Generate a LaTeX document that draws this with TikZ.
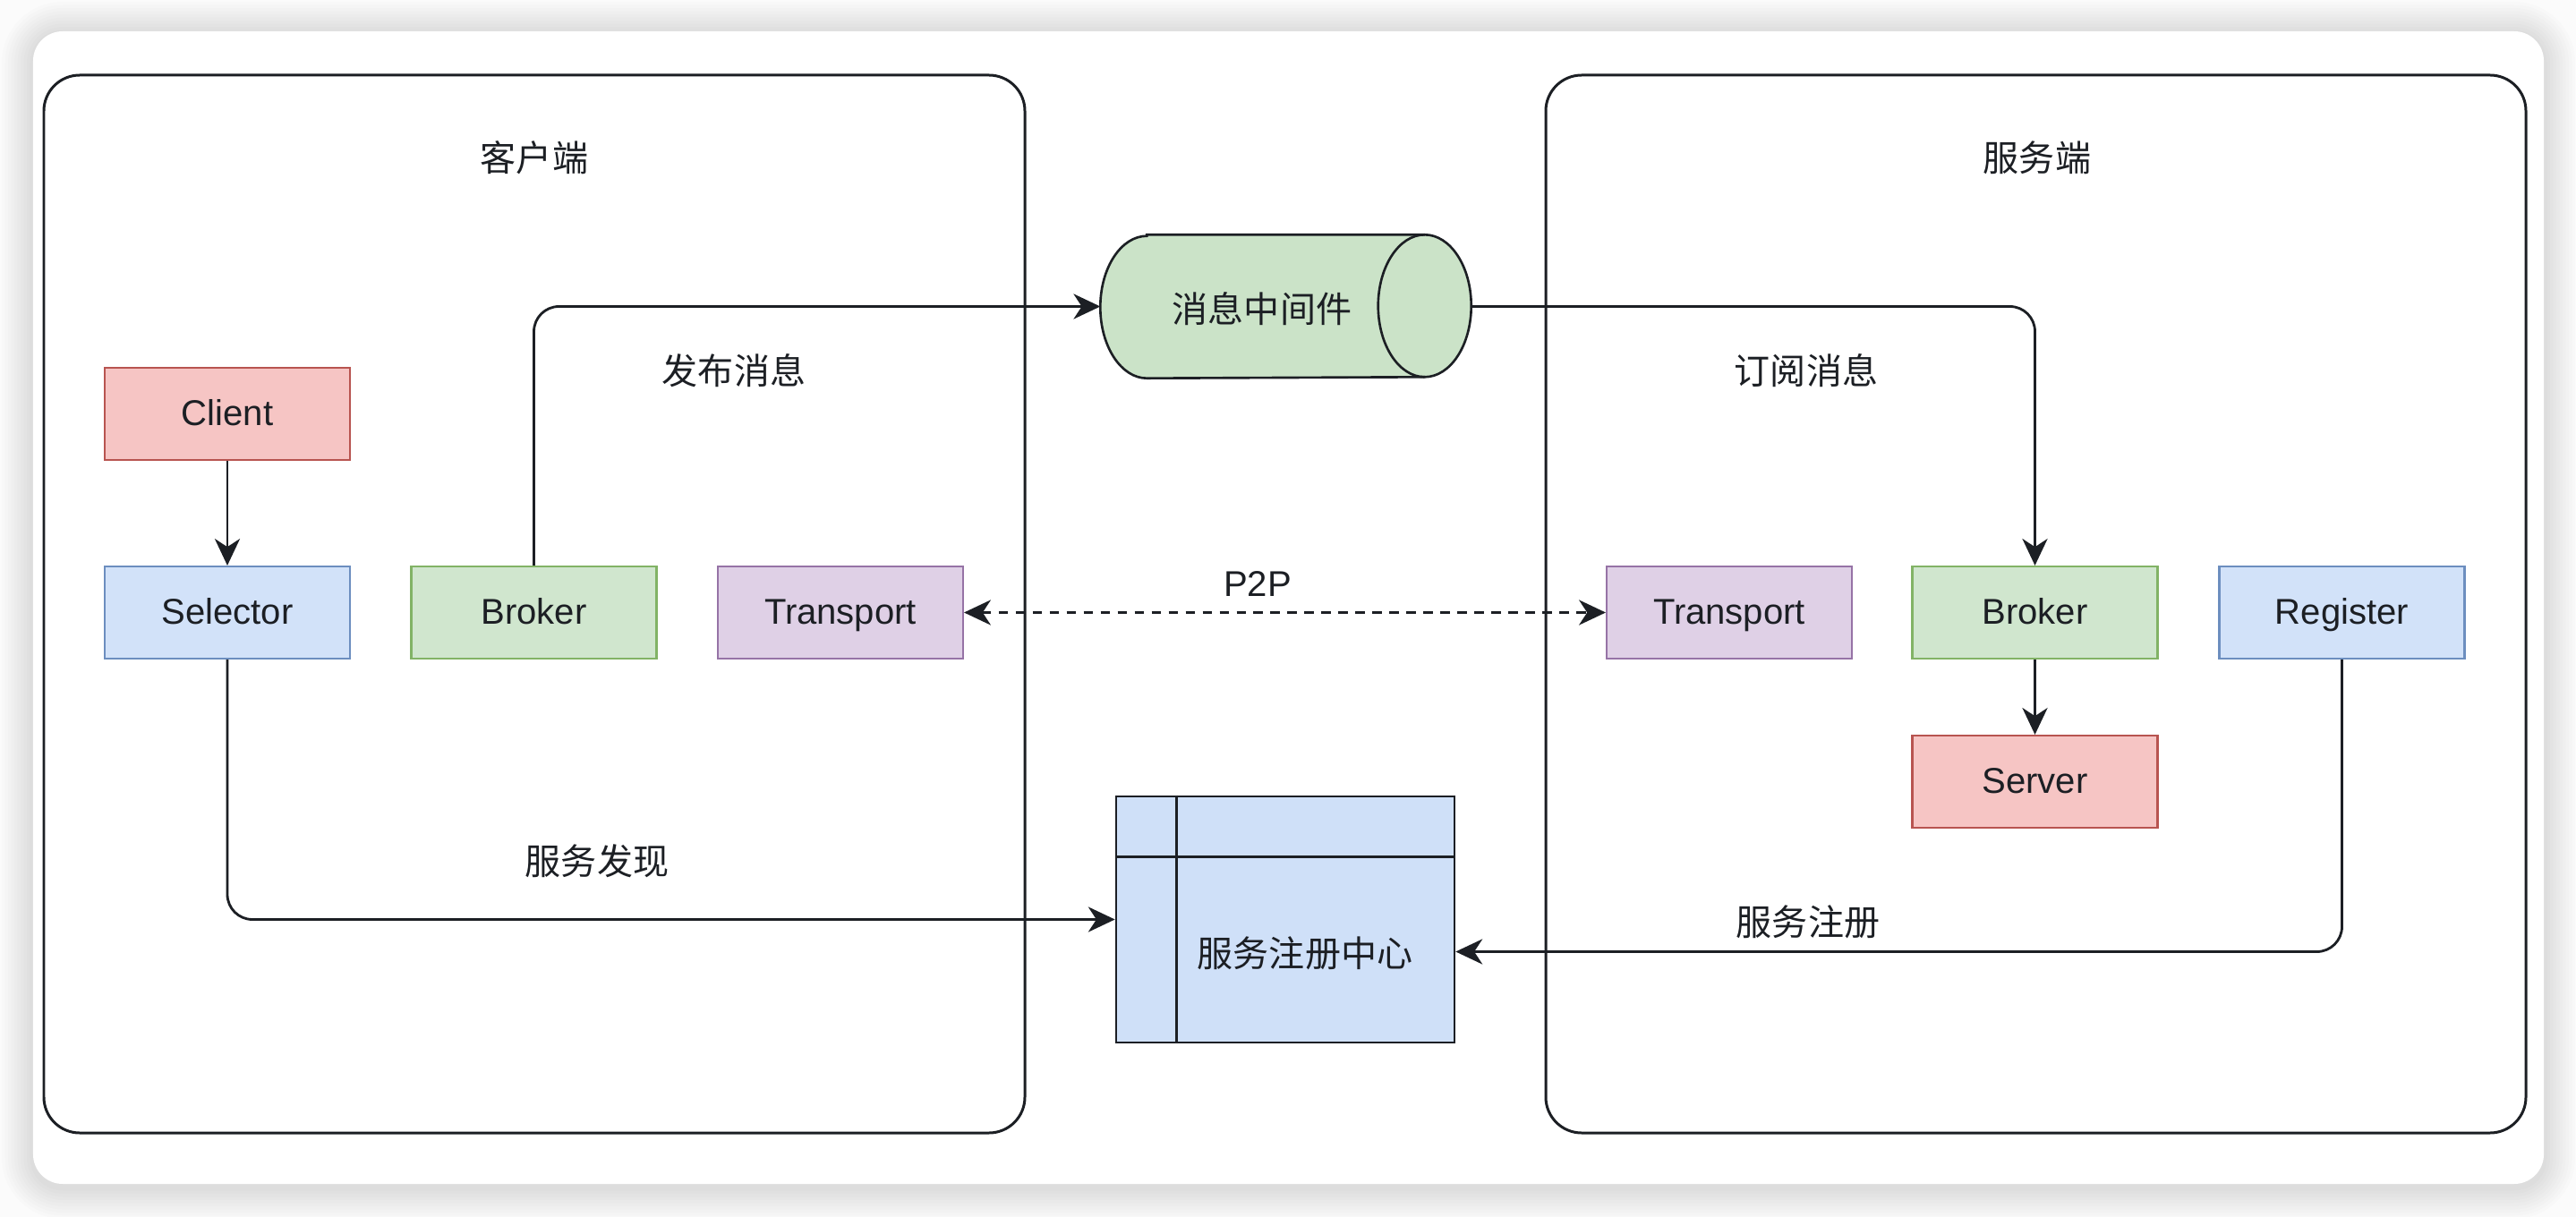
\documentclass[tikz,border=0pt]{standalone}
\usepackage{fontspec}
\setmainfont{Liberation Sans}
\newfontfamily\cjk{Noto Sans CJK SC}
\usepackage{tikz}
\usetikzlibrary{arrows.meta,calc,positioning,shapes.geometric}
\definecolor{ink}{HTML}{1C1F24}
\definecolor{redF}{HTML}{F6C5C4}
\definecolor{redD}{HTML}{B85450}
\definecolor{bluF}{HTML}{D2E2F9}
\definecolor{bluD}{HTML}{6C8EBF}
\definecolor{grnF}{HTML}{D0E6CE}
\definecolor{grnD}{HTML}{82B366}
\definecolor{purF}{HTML}{DFD0E6}
\definecolor{purD}{HTML}{9673A6}
\definecolor{regF}{HTML}{CFE0F8}
\definecolor{mqF}{HTML}{CBE3C8}
\newcommand{\lblsize}{\fontsize{11.4pt}{13pt}\selectfont}

\begin{document}
\begin{tikzpicture}[
  txt/.style={font=\lblsize\cjk,text=ink},
  box/.style={line width=0.6pt,minimum width=2.74cm,minimum height=1.03cm,font=\lblsize,text=ink,text height=0.92em,text depth=0.2em},
  redbox/.style={draw=redD,fill=redF}, blubox/.style={draw=bluD,fill=bluF},
  grnbox/.style={draw=grnD,fill=grnF}, purbox/.style={draw=purD,fill=purF},
  frame/.style={draw=ink,line width=0.85pt,rounded corners=0.4cm},
  conn/.style={draw=ink,line width=0.8pt,rounded corners=0.28cm,-{Stealth[length=8.5pt,width=8pt,inset=2.6pt]}},
  p2p/.style={draw=ink,line width=0.8pt,dash pattern=on 3pt off 2.4pt,{Stealth[length=8.5pt,width=8pt,inset=2.6pt]}-{Stealth[length=8.5pt,width=8pt,inset=2.6pt]}}
]
  \useasboundingbox (0,0) rectangle (28.78,-13.6);
  \fill[gray!3] (0,0) rectangle (28.78,-13.6);
  \foreach \i in {1,...,10} {
    \pgfmathsetmacro{\rr}{0.33+\i*0.035}
    \fill[black,opacity=0.011,rounded corners=\rr cm] (0.37-\i*0.035,-0.37+\i*0.035) rectangle (28.42+\i*0.035,-13.27-\i*0.035);
  }
  \fill[white,rounded corners=0.33cm] (0.37,-0.35) rectangle (28.42,-13.23);

  \draw[frame] (0.49,-0.84) rectangle (11.45,-12.66);
  \draw[frame] (17.27,-0.84) rectangle (28.22,-12.66);
  \node[txt] (cliTitle) at (5.97,-1.76) {客户端};
  \node[txt] (srvTitle) at (22.76,-1.76) {服务端};

  \foreach \n/\x/\y/\sty/\lab in {client/2.54/-4.625/redbox/Client, selector/2.54/-6.845/blubox/Selector,
      brkL/5.965/-6.845/grnbox/Broker, trL/9.39/-6.845/purbox/Transport,
      trR/19.32/-6.845/purbox/Transport, brkR/22.735/-6.845/grnbox/Broker,
      register/26.165/-6.845/blubox/Register, server/22.735/-8.735/redbox/Server}
    \node[box,\sty] (\n) at (\x,\y) {\lab};

  % message queue drawn as a lying cylinder
  \node[minimum width=4.13cm,minimum height=1.59cm,inner sep=0pt] (mq) at (14.365,-3.425) {};
  \filldraw[draw=ink,fill=mqF,line width=0.75pt] ([xshift=0.52cm]mq.north west) -- ([xshift=-0.52cm]mq.north east)
    arc[start angle=90,end angle=-90,x radius=0.52cm,y radius=0.795cm] -- ([xshift=0.52cm]mq.south west)
    arc[start angle=270,end angle=90,x radius=0.52cm,y radius=0.795cm] -- cycle;
  \draw[ink,line width=0.75pt] ([xshift=-0.52cm]mq.north east) arc[start angle=90,end angle=270,x radius=0.52cm,y radius=0.795cm];
  \node[txt] (mqTxt) at (14.1,-3.45) {消息中间件};

  \node[draw=ink,fill=regF,line width=0.75pt,minimum width=3.78cm,minimum height=2.75cm] (reg) at (14.36,-10.275) {};
  \draw[ink,line width=0.75pt] ([xshift=0.69cm]reg.north west) -- ([xshift=0.69cm]reg.south west);
  \draw[ink,line width=0.75pt] ([yshift=-0.69cm]reg.north west) -- ([yshift=-0.69cm]reg.north east);
  \node[txt] (regTxt) at (14.58,-10.65) {服务注册中心};

  \draw[conn] (client) -- (selector);
  \draw[conn] (brkL) |- (mq);
  \draw[conn] (mq) -| (brkR);
  \draw[conn] (brkR) -- (server);
  \draw[p2p] (trL) -- (trR);
  \draw[conn] (selector) |- (reg);
  \draw[conn] (register) |- ([yshift=-0.36cm]reg.east);

  \node[txt] (pub) at (8.2,-4.14) {发布消息};
  \node[txt] (sub) at (20.18,-4.14) {订阅消息};
  \node[font=\lblsize,text=ink] (p2pLbl) at (14.05,-6.53) {P2P};
  \node[txt] (disc) at (6.67,-9.62) {服务发现};
  \node[txt] (regi) at (20.2,-10.3) {服务注册};
\end{tikzpicture}
\end{document}
